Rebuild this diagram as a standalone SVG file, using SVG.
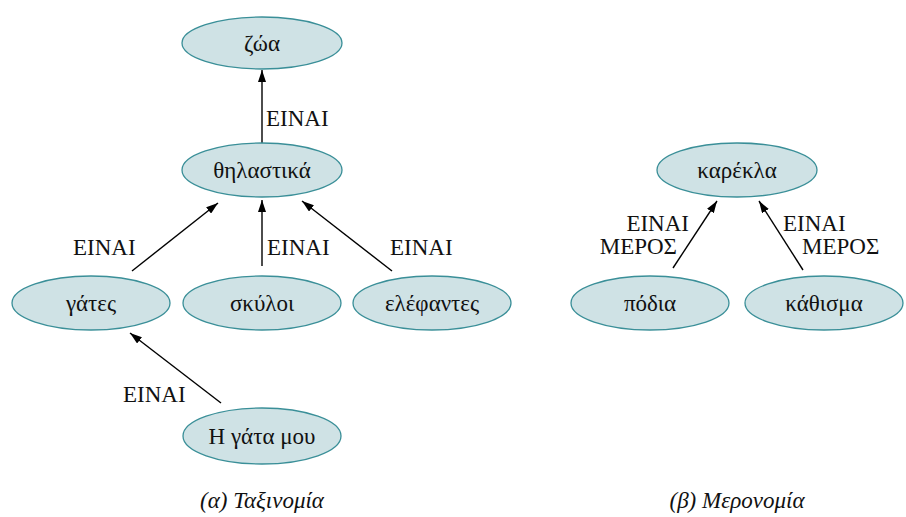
<svg xmlns="http://www.w3.org/2000/svg" width="906" height="517" viewBox="0 0 906 517">
  <defs>
    <marker id="head" viewBox="0 0 12 8" refX="12" refY="4" markerWidth="12" markerHeight="8" markerUnits="userSpaceOnUse" orient="auto">
      <path d="M0,0 L12,4 L0,8 Z" fill="#000"/>
    </marker>
  </defs>

  <!-- connectors -->
  <g id="connectors" stroke="#000" stroke-width="1.4" marker-end="url(#head)">
    <line x1="262" y1="143" x2="262" y2="70"/>
    <line x1="132" y1="271" x2="218" y2="203"/>
    <line x1="262" y1="266" x2="262" y2="200"/>
    <line x1="392" y1="271" x2="302" y2="201"/>
    <line x1="221" y1="403" x2="130" y2="333"/>
    <line x1="673" y1="268" x2="717" y2="201"/>
    <line x1="803" y1="270" x2="759" y2="201"/>
  </g>
  <g id="connector-labels" fill="#111">
    <text x="266" y="126" font-family="Times New Roman, Liberation Serif, serif" font-size="23">ΕΙΝΑΙ</text>
    <text x="73" y="255" font-family="Times New Roman, Liberation Serif, serif" font-size="23">ΕΙΝΑΙ</text>
    <text x="267" y="255" font-family="Times New Roman, Liberation Serif, serif" font-size="23">ΕΙΝΑΙ</text>
    <text x="390" y="255" font-family="Times New Roman, Liberation Serif, serif" font-size="23">ΕΙΝΑΙ</text>
    <text x="123" y="402" font-family="Times New Roman, Liberation Serif, serif" font-size="23">ΕΙΝΑΙ</text>
    <text x="689" y="231" text-anchor="end" font-family="Times New Roman, Liberation Serif, serif" font-size="23">ΕΙΝΑΙ</text>
    <text x="677" y="254" text-anchor="end" font-family="Times New Roman, Liberation Serif, serif" font-size="23">ΜΕΡΟΣ</text>
    <text x="783" y="231" font-family="Times New Roman, Liberation Serif, serif" font-size="23">ΕΙΝΑΙ</text>
    <text x="802" y="254" font-family="Times New Roman, Liberation Serif, serif" font-size="23">ΜΕΡΟΣ</text>
  </g>

  <!-- nodes: shared ellipse look on the parent group -->
  <g fill="#cfe2e5" stroke="#3a8f98" stroke-width="1.3">
    <g id="zoa"><ellipse cx="262" cy="43" rx="80" ry="26"/><text x="262" y="51" text-anchor="middle" fill="#111" stroke="none" font-family="Times New Roman, Liberation Serif, serif" font-size="23">ζώα</text></g>
    <g id="thilastika"><ellipse cx="262" cy="170" rx="80" ry="27"/><text x="262" y="178" text-anchor="middle" fill="#111" stroke="none" font-family="Times New Roman, Liberation Serif, serif" font-size="23">θηλαστικά</text></g>
    <g id="gates"><ellipse cx="91" cy="303" rx="79" ry="27"/><text x="91" y="311" text-anchor="middle" fill="#111" stroke="none" font-family="Times New Roman, Liberation Serif, serif" font-size="23">γάτες</text></g>
    <g id="skyloi"><ellipse cx="262" cy="303" rx="79" ry="27"/><text x="262" y="311" text-anchor="middle" fill="#111" stroke="none" font-family="Times New Roman, Liberation Serif, serif" font-size="23">σκύλοι</text></g>
    <g id="elefantes"><ellipse cx="432" cy="303" rx="79" ry="27"/><text x="432" y="311" text-anchor="middle" fill="#111" stroke="none" font-family="Times New Roman, Liberation Serif, serif" font-size="23">ελέφαντες</text></g>
    <g id="gata-mou"><ellipse cx="262" cy="436" rx="79" ry="28"/><text x="262" y="444" text-anchor="middle" fill="#111" stroke="none" font-family="Times New Roman, Liberation Serif, serif" font-size="23">Η γάτα μου</text></g>
    <g id="karekla"><ellipse cx="737" cy="170" rx="80" ry="27"/><text x="737" y="178" text-anchor="middle" fill="#111" stroke="none" font-family="Times New Roman, Liberation Serif, serif" font-size="23">καρέκλα</text></g>
    <g id="podia"><ellipse cx="650" cy="303" rx="79" ry="27"/><text x="650" y="311" text-anchor="middle" fill="#111" stroke="none" font-family="Times New Roman, Liberation Serif, serif" font-size="23">πόδια</text></g>
    <g id="kathisma"><ellipse cx="824" cy="303" rx="79" ry="27"/><text x="824" y="311" text-anchor="middle" fill="#111" stroke="none" font-family="Times New Roman, Liberation Serif, serif" font-size="23">κάθισμα</text></g>
  </g>

  <!-- captions -->
  <text x="262" y="508" text-anchor="middle" fill="#111" font-style="italic" font-family="Times New Roman, Liberation Serif, serif" font-size="23">(α) Ταξινομία</text>
  <text x="737" y="508" text-anchor="middle" fill="#111" font-style="italic" font-family="Times New Roman, Liberation Serif, serif" font-size="23">(β) Μερονομία</text>
</svg>
